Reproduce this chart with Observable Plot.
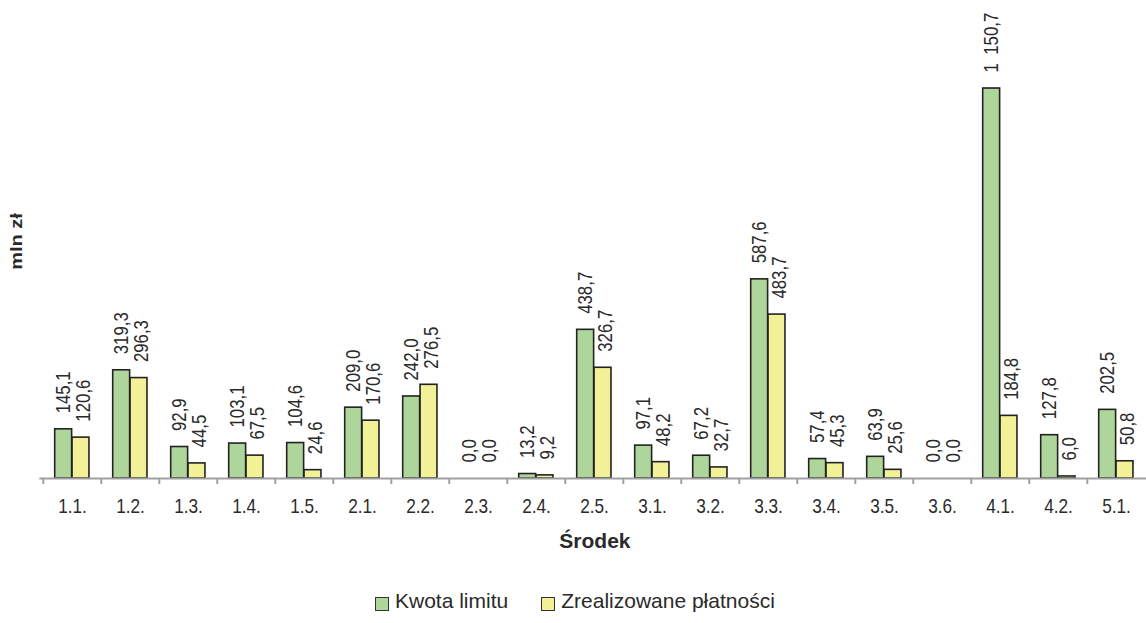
<!DOCTYPE html>
<html>
<head>
<meta charset="utf-8">
<script src="https://cdn.jsdelivr.net/npm/d3@7"></script>
<script src="https://cdn.jsdelivr.net/npm/@observablehq/plot@0.6"></script>
<style>
  html, body { margin: 0; padding: 0; background: #fff; }
  body { width: 1146px; height: 623px; overflow: hidden; position: relative;
         font-family: "Liberation Sans", Arial, sans-serif; }
  #legend { position: absolute; left: 375px; top: 589px; display: flex; align-items: center;
            font-size: 21px; color: #2a2a2a; white-space: nowrap; }
  #legend .item { display: flex; align-items: center; margin-right: 33px; }
  #legend .sw { width: 12px; height: 12px; border: 1px solid #333; margin-right: 6px; position: relative; top: 3px; }
</style>
</head>
<body>
<div id="chart"></div>
<div id="legend"></div>
<script>
const categories = ["1.1.","1.2.","1.3.","1.4.","1.5.","2.1.","2.2.","2.3.","2.4.","2.5.","3.1.","3.2.","3.3.","3.4.","3.5.","3.6.","4.1.","4.2.","5.1."];
const kwotaLimitu = [145.1,319.3,92.9,103.1,104.6,209.0,242.0,0.0,13.2,438.7,97.1,67.2,587.6,57.4,63.9,0.0,1150.7,127.8,202.5];
const zrealizowane = [120.6,296.3,44.5,67.5,24.6,170.6,276.5,0.0,9.2,326.7,48.2,32.7,483.7,45.3,25.6,0.0,184.8,6.0,50.8];
const seriesNames = ["Kwota limitu", "Zrealizowane płatności"];
const seriesColors = ["#aed69b", "#f2f197"];
const xTitle = "Środek";
const yTitle = "mln zł";

const fmt = d3.formatLocale({decimal: ",", thousands: "\u2002", grouping: [3], currency: ["", ""]}).format(",.1f");
const green = categories.map((c, i) => ({cat: c, value: kwotaLimitu[i]}));
const yellow = categories.map((c, i) => ({cat: c, value: zrealizowane[i]}));

const font = '"Liberation Sans", Arial, sans-serif';
const bw = 58.43;

const chart = Plot.plot({
  width: 1146,
  height: 560,
  marginTop: 0,
  marginBottom: 82,
  marginLeft: 39.3,
  marginRight: -3.5,
  style: {fontFamily: font, fontSize: "20px", color: "#2a2a2a", background: "#fff"},
  x: {domain: categories, padding: 0, label: null},
  y: {domain: [0, 1410.4], axis: null},
  marks: [
    Plot.barY(green.filter(d => d.value > 0), {x: "cat", y: "value", fill: seriesColors[0], stroke: "#222", strokeWidth: 1.6, insetLeft: 11.7, insetRight: bw - 11.7 - 17.35}),
    Plot.barY(yellow.filter(d => d.value > 0), {x: "cat", y: "value", fill: seriesColors[1], stroke: "#222", strokeWidth: 1.6, insetLeft: 11.7 + 17.35, insetRight: bw - 11.7 - 34.7}),
    Plot.ruleY([0], {stroke: "#a0a0a0", strokeWidth: 2}),
    Plot.axisX({ticks: categories, tickSize: 6, tickFormat: null, dx: -bw / 2, stroke: "#a0a0a0", strokeWidth: 2, strokeOpacity: 1}),
    Plot.axisX({tickSize: 0, tickPadding: 20, fontSize: 21, fill: "#2a2a2a", label: null}),
    Plot.text(green, {x: "cat", y: "value", text: d => fmt(d.value), rotate: -90, textAnchor: "start", dx: -9, dy: -16, fontSize: 20.5, fill: "#2a2a2a"}),
    Plot.text(yellow, {x: "cat", y: "value", text: d => fmt(d.value), rotate: -90, textAnchor: "start", dx: 11, dy: -16, fontSize: 20.5, fill: "#2a2a2a"}),
    Plot.text([xTitle], {frameAnchor: "bottom", lineAnchor: "middle", dy: 63, fontWeight: "bold", fontSize: 21, fill: "#2a2a2a"}),
    Plot.text([yTitle], {frameAnchor: "left", textAnchor: "middle", rotate: -90, dx: -23.3, dy: 2, fontWeight: "bold", fontSize: 16, fill: "#2a2a2a"})
  ]
});
document.getElementById("chart").appendChild(chart);

// narrow-font emulation (Arial Narrow look) for tick labels and value labels
d3.select(chart).selectAll('g[aria-label="x-axis tick label"] text').each(function() {
  const t = this.getAttribute("transform") || "";
  this.setAttribute("transform", t + " scale(0.82,1)");
});
d3.select(chart).selectAll('g[aria-label="text"] text').each(function() {
  const txt = this.textContent;
  const t = this.getAttribute("transform") || "";
  if (txt === yTitle) this.setAttribute("transform", t + " scale(1.25,1)");
  else if (txt !== xTitle) this.setAttribute("transform", t + " scale(0.82,1)");
});

const legend = document.getElementById("legend");
seriesNames.forEach((name, i) => {
  const item = document.createElement("div");
  item.className = "item";
  const sw = document.createElement("div");
  sw.className = "sw";
  sw.style.background = seriesColors[i];
  const label = document.createElement("span");
  label.textContent = name;
  item.appendChild(sw);
  item.appendChild(label);
  legend.appendChild(item);
});
</script>
</body>
</html>
